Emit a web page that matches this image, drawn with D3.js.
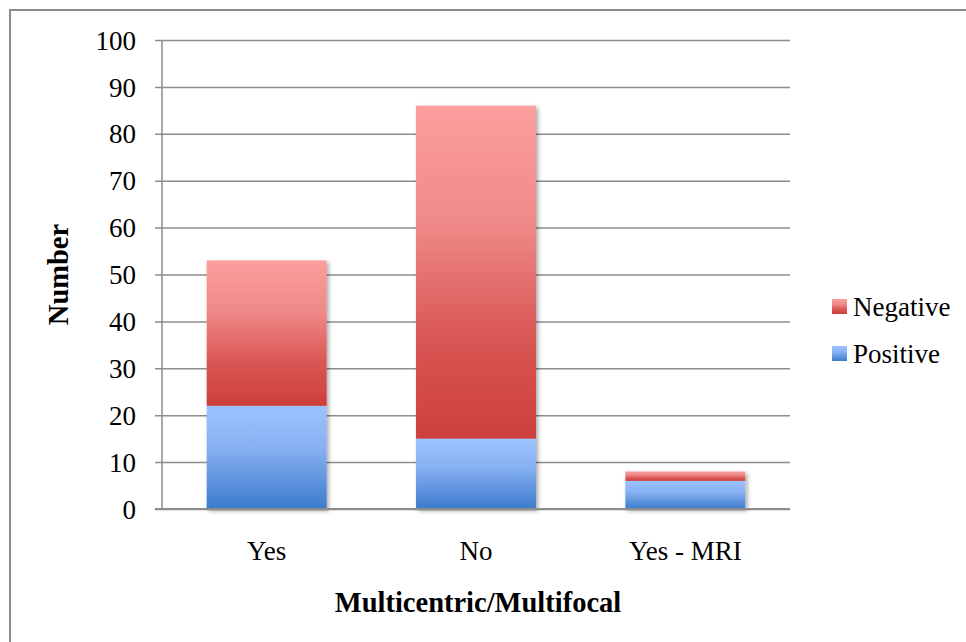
<!DOCTYPE html>
<html>
<head>
<meta charset="utf-8">
<script src="https://cdn.jsdelivr.net/npm/d3@7"></script>
<style>
  html, body { margin: 0; padding: 0; background: #fff; }
  svg { display: block; }
  text { font-family: "Liberation Serif", "DejaVu Serif", serif; fill: #000; }
</style>
</head>
<body>
<svg id="chart" width="966" height="642"></svg>
<script>
// Data
const categories = ["Yes", "No", "Yes - MRI"];
const seriesNames = ["Positive", "Negative"];
const positive = [22, 15, 6];
const negative = [31, 71, 2];
const yTicks = [0, 10, 20, 30, 40, 50, 60, 70, 80, 90, 100];
const xTitle = "Multicentric/Multifocal";
const yTitle = "Number";

const rows = categories.map((c, i) => ({ category: c, Positive: positive[i], Negative: negative[i] }));
const stacked = d3.stack().keys(seriesNames)(rows);

const svg = d3.select("#chart");
const W = 966, H = 642;
const plot = { left: 162, right: 790, top: 40, bottom: 509 };

// Outer frame
svg.append("rect")
  .attr("x", 10).attr("y", 10)
  .attr("width", W).attr("height", H)
  .attr("fill", "#fff")
  .attr("stroke", "#8c8c8c").attr("stroke-width", 2);

const defs = svg.append("defs");
const gradStops = {
  Negative: [["0%", "#fc9e9e"], ["35%", "#ef8a88"], ["70%", "#d95654"], ["100%", "#cd3f3b"]],
  Positive: [["0%", "#9cc3ff"], ["40%", "#88b1f2"], ["100%", "#3b7bcc"]]
};
Object.entries(gradStops).forEach(([k, stops]) => {
  const g = defs.append("linearGradient").attr("id", "grad-" + k)
    .attr("x1", 0).attr("y1", 0).attr("x2", 0).attr("y2", 1);
  stops.forEach(([o, c]) => g.append("stop").attr("offset", o).attr("stop-color", c));
});
const shadow = defs.append("filter").attr("id", "shadow")
  .attr("x", "-10%").attr("y", "-10%").attr("width", "130%").attr("height", "130%");
shadow.append("feDropShadow")
  .attr("dx", 2).attr("dy", 2).attr("stdDeviation", 2)
  .attr("flood-color", "#000").attr("flood-opacity", 0.35);

const x = d3.scaleBand()
  .domain(categories)
  .range([plot.left, plot.right])
  .paddingInner(0.427)
  .paddingOuter(0.2135);

const y = d3.scaleLinear().domain([0, 100]).range([plot.bottom, plot.top]);

// Gridlines with tick stubs
const yAxis = d3.axisLeft(y)
  .tickValues(yTicks)
  .tickSize(-(plot.right - plot.left))
  .tickSizeOuter(0)
  .tickPadding(26)
  .tickFormat(d3.format("d"));

const gy = svg.append("g")
  .attr("transform", `translate(${plot.left},0)`)
  .call(yAxis);
gy.select(".domain").remove();
gy.selectAll(".tick line")
  .attr("x1", -7)
  .attr("stroke", "#8c8c8c").attr("stroke-width", 1.5);
gy.selectAll(".tick text")
  .style("font-size", "27px")
  .attr("dy", "0.34em");

// Vertical axis line
svg.append("line")
  .attr("x1", plot.left).attr("x2", plot.left)
  .attr("y1", plot.top).attr("y2", plot.bottom)
  .attr("stroke", "#8c8c8c").attr("stroke-width", 1.5);

// Stacked bars
const barGroup = svg.append("g").attr("filter", "url(#shadow)");
stacked.forEach(layer => {
  barGroup.append("g")
    .selectAll("rect")
    .data(layer)
    .join("rect")
    .attr("x", d => x(d.data.category))
    .attr("width", x.bandwidth())
    .attr("y", d => y(d[1]))
    .attr("height", d => y(d[0]) - y(d[1]))
    .attr("fill", `url(#grad-${layer.key})`);
});

// Baseline
svg.append("line")
  .attr("x1", plot.left - 7).attr("x2", plot.right)
  .attr("y1", y(0)).attr("y2", y(0))
  .attr("stroke", "#8c8c8c").attr("stroke-width", 2);

// Category labels
const xAxis = d3.axisBottom(x).tickSize(0).tickPadding(0);
const gx = svg.append("g")
  .attr("transform", `translate(0,${plot.bottom})`)
  .call(xAxis);
gx.select(".domain").remove();
gx.selectAll(".tick text")
  .style("font-size", "27px")
  .attr("y", 51).attr("dy", 0);

// Axis titles
svg.append("text")
  .attr("x", (plot.left + plot.right) / 2 + 2)
  .attr("y", 612)
  .attr("text-anchor", "middle")
  .style("font-size", "28.5px")
  .style("font-weight", "bold")
  .text(xTitle);

svg.append("text")
  .attr("transform", `translate(68,${(plot.top + plot.bottom) / 2}) rotate(-90)`)
  .attr("text-anchor", "middle")
  .style("font-size", "28.5px")
  .style("font-weight", "bold")
  .text(yTitle);

// Legend
const legendItems = ["Negative", "Positive"];
const legend = svg.append("g").attr("transform", "translate(832,299)");
legendItems.forEach((k, i) => {
  const g = legend.append("g").attr("transform", `translate(0,${i * 47})`);
  g.append("rect").attr("width", 15).attr("height", 15)
    .attr("fill", `url(#grad-${k})`);
  g.append("text")
    .attr("x", 21).attr("y", 7.5).attr("dy", "0.35em")
    .style("font-size", "27px")
    .text(k);
});
</script>
</body>
</html>
